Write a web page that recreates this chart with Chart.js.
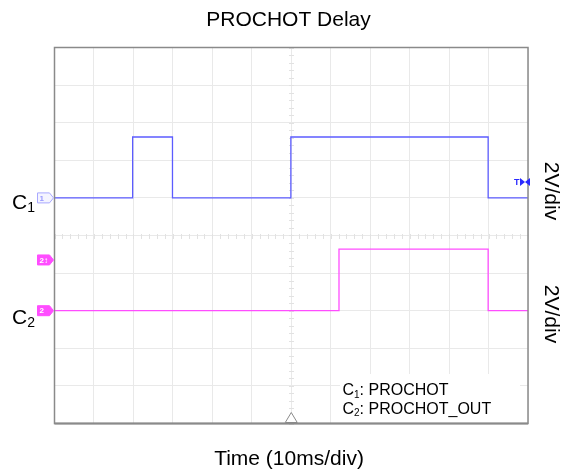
<!DOCTYPE html>
<html>
<head>
<meta charset="utf-8">
<script src="https://cdn.jsdelivr.net/npm/chart.js@4"></script>
<style>
  html, body { margin: 0; padding: 0; background: #fff; }
  canvas { display: block; }
</style>
</head>
<body>
<canvas id="scope" width="575" height="475"></canvas>
<script>
// --- data (time in divisions, level in divisions from bottom) ---
const timeC1 = [0, 1.98, 2.99, 5.99, 10.99, 12];
const levelC1 = [6, 7.62, 6, 7.62, 6, 6];
const timeC2 = [0, 7.21, 10.99, 12];
const levelC2 = [3, 4.64, 3, 3];

const groundC1 = 6;      // C1 offset marker
const groundC2 = 3;      // C2 offset marker
const trigC2 = 4.35;     // C2 level marker
const trigLevel = 6.42;  // trigger level marker (right side)
const trigTime = 6;      // trigger position (bottom triangle)

const titleText = 'PROCHOT Delay';
const xTitle = 'Time (10ms/div)';
const scaleLabels = ['2V/div', '2V/div'];
const legendRows = [['C', '1', ': PROCHOT'], ['C', '2', ': PROCHOT_OUT']];

const FONT = '"Liberation Sans", Arial, sans-serif';
const BLUE = '#5c5cff';
const MAGENTA = '#ff4dff';

function toPoints(xs, ys) {
    return xs.map((x, i) => ({ x: x, y: ys[i] }));
}

// text with a subscript, e.g. C<sub>1</sub>
function drawSub(ctx, main, sub, rest, x, y, size, subSize) {
    ctx.font = size + 'px ' + FONT;
    ctx.fillText(main, x, y);
    let w = ctx.measureText(main).width;
    ctx.font = subSize + 'px ' + FONT;
    ctx.fillText(sub, x + w, y + subSize * 0.25);
    w += ctx.measureText(sub).width;
    if (rest) {
        ctx.font = size + 'px ' + FONT;
        ctx.fillText(rest, x + w, y);
    }
}

// pentagon marker pointing right, tip at (tipX, cy)
function channelTag(ctx, tipX, cy, fill, stroke, label, textColor) {
    const w = 16, h = 10;
    ctx.beginPath();
    ctx.moveTo(tipX - w, cy - h / 2);
    ctx.lineTo(tipX - 4, cy - h / 2);
    ctx.lineTo(tipX, cy);
    ctx.lineTo(tipX - 4, cy + h / 2);
    ctx.lineTo(tipX - w, cy + h / 2);
    ctx.closePath();
    ctx.fillStyle = fill;
    ctx.fill();
    ctx.strokeStyle = stroke;
    ctx.lineWidth = 1;
    ctx.stroke();
    ctx.fillStyle = textColor;
    ctx.font = 'bold 8px ' + FONT;
    ctx.textAlign = 'left';
    ctx.textBaseline = 'middle';
    ctx.fillText(label, tipX - w + 2, cy + 0.5);
}

const scopeDecor = {
    id: 'scopeDecor',
    beforeDatasetsDraw(chart) {
        const ctx = chart.ctx;
        const a = chart.chartArea;
        const xs = chart.scales.x, ys = chart.scales.y;
        ctx.save();
        // minor ticks on the centre lines
        ctx.strokeStyle = '#e2e2e2';
        ctx.lineWidth = 1;
        const cx = Math.round(xs.getPixelForValue(6)) + 0.5;
        const cy = Math.round(ys.getPixelForValue(5)) + 0.5;
        ctx.beginPath();
        for (let v = 0; v <= 12; v += 0.2) {
            const px = Math.round(xs.getPixelForValue(v)) + 0.5;
            ctx.moveTo(px, cy - 2.5); ctx.lineTo(px, cy + 2.5);
        }
        for (let v = 0; v <= 10; v += 0.2) {
            const py = Math.round(ys.getPixelForValue(v)) + 0.5;
            ctx.moveTo(cx - 2.5, py); ctx.lineTo(cx + 2.5, py);
        }
        ctx.stroke();
        // white box behind the legend
        ctx.fillStyle = '#fff';
        ctx.fillRect(340, 374, a.right - 8 - 340, a.bottom - 374);
        ctx.restore();
    },
    afterDraw(chart) {
        const ctx = chart.ctx;
        const a = chart.chartArea;
        const xs = chart.scales.x, ys = chart.scales.y;
        ctx.save();
        // frame
        ctx.strokeStyle = '#8a8a8a';
        ctx.lineWidth = 1.5;
        ctx.strokeRect(a.left, a.top, a.right - a.left, a.bottom - a.top);
        ctx.beginPath();
        ctx.moveTo(a.left, a.bottom); ctx.lineTo(a.right, a.bottom);
        ctx.lineWidth = 2;
        ctx.stroke();

        // trigger position triangle
        const tx = xs.getPixelForValue(trigTime);
        ctx.beginPath();
        ctx.moveTo(tx - 6, a.bottom - 1);
        ctx.lineTo(tx, a.bottom - 11);
        ctx.lineTo(tx + 6, a.bottom - 1);
        ctx.closePath();
        ctx.fillStyle = '#fff';
        ctx.fill();
        ctx.strokeStyle = '#8a8a8a';
        ctx.lineWidth = 1;
        ctx.stroke();

        // channel markers on the left edge
        channelTag(ctx, a.left - 1, ys.getPixelForValue(groundC1), '#f4f4ff', '#a8a8ff', '1', '#9a9aff');
        channelTag(ctx, a.left - 1, ys.getPixelForValue(trigC2), MAGENTA, MAGENTA, '2\u2195', '#fff');
        channelTag(ctx, a.left - 1, ys.getPixelForValue(groundC2), MAGENTA, MAGENTA, '2', '#fff');

        // trigger level marker on the right edge
        const ty = ys.getPixelForValue(trigLevel);
        ctx.fillStyle = '#2a2aff';
        ctx.font = 'bold 9px ' + FONT;
        ctx.textAlign = 'left';
        ctx.textBaseline = 'middle';
        ctx.fillText('T', a.right - 14, ty + 0.5);
        ctx.beginPath();
        ctx.moveTo(a.right - 8, ty - 4); ctx.lineTo(a.right - 3, ty); ctx.lineTo(a.right - 8, ty + 4);
        ctx.closePath();
        ctx.moveTo(a.right + 2, ty - 4); ctx.lineTo(a.right - 3, ty); ctx.lineTo(a.right + 2, ty + 4);
        ctx.closePath();
        ctx.fill();

        // texts
        ctx.fillStyle = '#000';
        ctx.textBaseline = 'alphabetic';
        ctx.textAlign = 'center';
        ctx.font = '21px ' + FONT;
        ctx.fillText(titleText, 288.5, 25.5);
        ctx.fillText(xTitle, 289, 465);

        ctx.textAlign = 'left';
        drawSub(ctx, 'C', '1', '', 12, ys.getPixelForValue(groundC1) + 11, 21, 14);
        drawSub(ctx, 'C', '2', '', 12, ys.getPixelForValue(groundC2) + 13, 21, 14);

        drawSub(ctx, legendRows[0][0], legendRows[0][1], legendRows[0][2], 342.5, 395, 16, 10);
        drawSub(ctx, legendRows[1][0], legendRows[1][1], legendRows[1][2], 342.5, 413.5, 16, 10);

        ctx.font = '21px ' + FONT;
        ctx.textAlign = 'center';
        ctx.textBaseline = 'middle';
        [191, 314].forEach((yc, i) => {
            ctx.save();
            ctx.translate(551, yc);
            ctx.rotate(Math.PI / 2);
            ctx.fillText(scaleLabels[i], 0, 0);
            ctx.restore();
        });
        ctx.restore();
    }
};

new Chart(document.getElementById('scope'), {
    type: 'line',
    data: {
        datasets: [
            {
                label: 'C1: PROCHOT',
                data: toPoints(timeC1, levelC1),
                borderColor: BLUE,
                borderWidth: 1.3,
                stepped: true,
                pointRadius: 0,
                fill: false
            },
            {
                label: 'C2: PROCHOT_OUT',
                data: toPoints(timeC2, levelC2),
                borderColor: MAGENTA,
                borderWidth: 1.3,
                stepped: true,
                pointRadius: 0,
                fill: false
            }
        ]
    },
    options: {
        responsive: false,
        animation: false,
        devicePixelRatio: 1,
        layout: { padding: { left: 54.5, right: 47, top: 47.5, bottom: 51.5 } },
        plugins: { legend: { display: false }, tooltip: { enabled: false } },
        scales: {
            x: {
                type: 'linear', min: 0, max: 12,
                ticks: { display: false, stepSize: 1 },
                grid: { color: '#e9e9e9', drawTicks: false },
                border: { display: false }
            },
            y: {
                type: 'linear', min: 0, max: 10,
                ticks: { display: false, stepSize: 1 },
                grid: { color: '#e9e9e9', drawTicks: false },
                border: { display: false }
            }
        }
    },
    plugins: [scopeDecor]
});
</script>
</body>
</html>
